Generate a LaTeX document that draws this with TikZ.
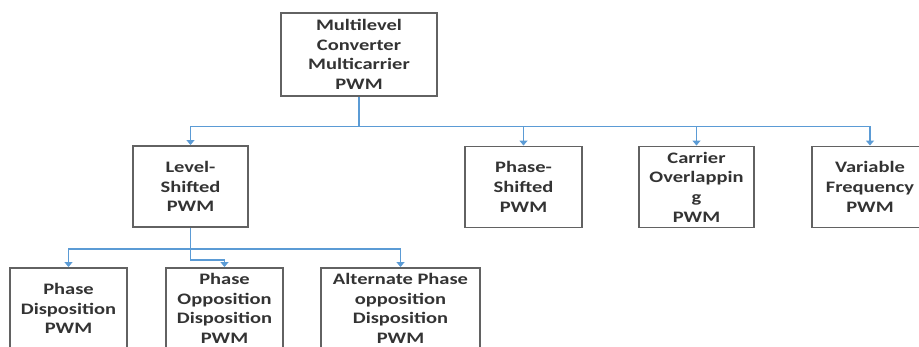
\documentclass[tikz,border=0pt]{standalone}
\usepackage{fontspec}
\newfontfamily\boxfont[FakeStretch=1.28]{Carlito}
\usetikzlibrary{arrows.meta}
\definecolor{linkblue}{HTML}{5B9BD5}
\definecolor{boxgray}{HTML}{626262}
\definecolor{textgray}{HTML}{333333}

\begin{document}
\begin{tikzpicture}[x=1pt,y=-1pt,
  box/.style={draw=boxgray,line width=1.9pt,inner sep=0pt,minimum height=81pt,
    align=center,text=textgray,font=\boxfont\bfseries\fontsize{16}{19.7}\selectfont},
  link/.style={draw=linkblue,line width=1.4pt,-{Triangle[width=8pt,length=5pt]}}]
\useasboundingbox (0,0) rectangle (919,347);
% \draw[help lines] (0,0) grid (919,347);
\node (mc) [box,minimum width=156pt,minimum height=83pt] at (359,54.5) {Multilevel\\Converter\\Multicarrier\\PWM};
%
\node (ls) [box,minimum width=115pt] at (190.5,186.5) {Level-\\Shifted\\PWM};
\node (ps) [box,minimum width=117pt] at (523.5,187) {Phase-\\Shifted\\PWM};
\node (co) [box,minimum width=115pt] at (696.5,187) {Carrier\\Overlappin\\g\\PWM};
\node (vf) [box,minimum width=116pt] at (870,187) {Variable\\Frequency\\PWM};
%
\node (pd) [box,minimum width=117pt] at (68.5,308.5) {Phase\\Disposition\\PWM};
\node (pod) [box,minimum width=117pt] at (224.5,308.5) {Phase\\Opposition\\Disposition\\PWM};
\node (apod) [box,minimum width=159pt] at (400.5,308.5) {Alternate Phase\\opposition\\Disposition\\PWM};
%
\draw[link] (mc.south) -- ++(0,29.5) -| (ls.north);
\draw[link] (mc.south) -- ++(0,29.5) -| (ps.north);
\draw[link] (mc.south) -- ++(0,29.5) -| (co.north);
\draw[link] (mc.south) -- ++(0,29.5) -| (vf.north);
\draw[link] (ls.south) -- ++(0,21) -| (pd.north);
\draw[link] (ls.south) -- ++(0,21) -| (apod.north);
\draw[link] (ls.south) -- ++(0,32) -| (pod.north);
\end{tikzpicture}
\end{document}
